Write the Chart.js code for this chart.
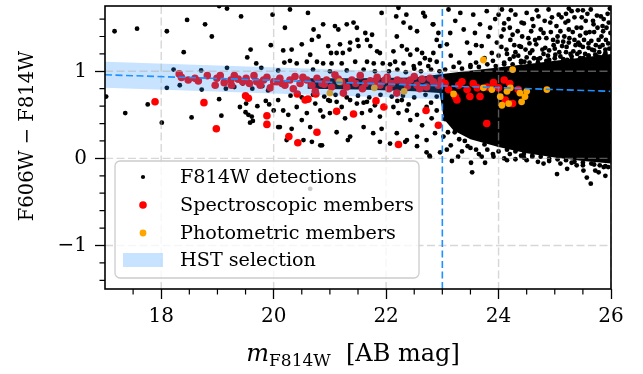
<!DOCTYPE html>
<html>
<head>
<meta charset="utf-8">
<script src="https://cdn.jsdelivr.net/npm/chart.js@4.4.0/dist/chart.umd.min.js"></script>
<style>
  body { margin: 0; background: #fff; }
  canvas { display: block; }
</style>
</head>
<body>
<canvas id="cmd" width="643" height="374"></canvas>
<script>
// ---- values ----
const xTicks = [18, 20, 22, 24, 26];
const yTicks = [-1, 0, 1];
const legendLabels = ['F814W detections', 'Spectroscopic members', 'Photometric members', 'HST selection'];

// individual F814W detections [mag, colour]
const detections = [
  [17.17,1.46],[17.57,1.49],[18.10,1.46],[18.46,1.59],[18.78,1.54],[19.03,1.75],[19.17,1.72],[19.42,1.63],[19.98,1.65],[18.90,1.40],
  [18.40,1.22],[19.95,1.30],[19.59,1.25],[19.53,1.16],[19.69,1.09],[19.78,1.04],[18.22,1.02],[18.71,1.01],[19.17,1.04],[20.08,1.01],
  [17.02,0.71],[17.36,0.52],[17.76,0.62],[18.01,0.41],[18.54,0.47],[18.10,0.81],[18.33,0.84],[18.72,0.79],[19.03,0.68],[19.07,0.49],
  [19.40,0.59],[19.51,0.63],[19.50,0.53],[19.55,0.50],[19.61,0.48],[19.58,0.41],[19.63,0.43],[19.71,0.60],[19.86,0.66],[19.92,0.62],
  [20.00,0.55],[20.08,0.36],[19.30,0.82],[19.45,0.86],[19.62,0.80],[19.80,0.83],[19.90,0.78],[19.15,0.80],
  [20.29,1.71],[20.61,1.67],[20.20,1.50],[20.50,1.31],[20.17,1.24],[20.32,1.25],[20.19,1.10],[20.29,1.12],[20.41,1.09],[20.59,1.11],
  [20.65,1.19],[20.77,1.11],[20.80,1.40],[20.88,1.54],[20.97,1.29],[21.02,1.21],[21.09,1.52],[21.15,1.48],[21.18,1.31],[21.23,1.21],
  [21.30,1.54],[21.36,1.33],[21.35,1.25],[21.42,1.56],[21.48,1.50],[21.49,1.36],[21.51,1.29],[21.63,1.44],[21.66,1.36],[21.72,1.29],
  [21.75,1.42],[21.84,1.23],[21.89,1.21],[21.92,1.67],[21.94,1.09],[21.78,1.09],[21.66,1.11],[21.45,1.11],[21.21,1.09],[21.03,1.09],
  [20.88,1.09],[20.68,1.36],[20.71,1.48],[21.12,1.21],[22.22,1.73],[22.18,1.63],[22.36,1.65],[22.66,1.67],[22.69,1.63],[22.84,1.54],
  [22.31,1.56],[22.43,1.50],[22.55,1.46],[22.19,1.40],[22.28,1.29],[22.37,1.25],[22.13,1.23],[22.43,1.19],[22.55,1.25],[22.64,1.21],
  [22.69,1.15],[22.78,1.13],[22.84,1.21],[22.90,1.11],[22.75,1.06],[22.60,1.09],[22.49,1.06],[22.31,1.09],[22.16,1.11],[22.07,1.08],
  [22.93,1.44],[22.90,1.36],[22.96,1.29],
  [22.05,1.00],[22.20,1.02],[22.35,0.99],[22.50,1.03],[22.62,1.00],[22.80,1.02],[22.95,1.00],[21.60,1.02],[21.80,1.00],[21.30,1.01],
  [21.00,1.00],[20.70,1.02],
  [20.08,0.67],[20.17,0.55],[20.26,0.50],[20.41,0.59],[20.50,0.44],[20.59,0.52],[20.65,0.36],[20.74,0.63],[20.83,0.55],[20.88,0.48],
  [20.97,0.67],[21.00,0.52],[21.12,0.65],[21.21,0.59],[21.27,0.46],[21.36,0.67],[21.48,0.63],[21.57,0.52],[21.66,0.65],[21.72,0.55],
  [21.80,0.61],[21.89,0.48],[21.92,0.34],[20.11,0.36],[20.32,0.34],[20.53,0.21],[20.86,0.15],[21.12,0.30],[21.36,0.25],[21.60,0.36],
  [21.77,0.29],[22.13,0.59],[22.22,0.52],[22.28,0.67],[22.37,0.55],[22.43,0.44],[22.55,0.50],[22.64,0.38],[22.72,0.59],[22.81,0.46],
  [22.90,0.55],[22.19,0.29],[22.37,0.21],[22.55,0.25],[22.72,0.21],[22.87,0.29],[22.07,0.17],
  [20.30,0.72],[20.50,0.70],[20.70,0.73],[20.90,0.71],[21.10,0.73],[21.30,0.70],[21.50,0.72],[21.70,0.70],[21.90,0.73],[22.10,0.71],
  [22.30,0.72],[22.50,0.70],[22.70,0.73],[22.90,0.71],[21.00,0.66],[21.60,0.64],[22.20,0.66],[22.80,0.64],[22.40,0.62],
  [20.23,0.21],[20.68,0.19],[20.83,0.15],[21.32,0.21],[21.89,0.19],[22.77,0.03],[22.72,0.07],[22.55,0.14],[22.34,0.19],[22.96,0.07],
  [22.78,0.02],[20.65,-0.35],
  [23.53,-0.16],[25.04,-0.18],[25.64,-0.29],[25.57,-0.22],[25.90,-0.20],[23.17,-0.03],[23.76,-0.05],[23.51,-0.05],[23.70,0.02],[23.91,0.02],
  [24.15,-0.02],[24.45,0.01],[24.80,-0.06],[25.22,-0.12],[25.39,-0.08],[25.51,-0.14],[25.72,-0.14],[25.78,-0.16],[25.87,-0.10],
  [22.83,1.54],[23.11,1.71],[23.23,1.58],[23.14,1.44],[23.08,1.31],[23.32,1.67],[23.38,1.48],[23.44,1.33],[23.49,1.21],[23.55,1.65],
  [23.58,1.44],[23.67,1.54],[23.70,1.29],[23.79,1.69],[23.82,1.40],[23.88,1.21],[23.94,1.60],[23.97,1.33],[24.06,1.71],[24.09,1.48],
  [24.14,1.25],[24.18,1.60],[24.21,1.36],[24.27,1.17],[24.30,1.65],[24.34,1.46],[24.37,1.29],[24.41,1.56],[24.46,1.11],[24.50,1.67],
  [24.53,1.38],[24.56,1.21],[24.62,1.52],[24.67,1.31],[24.71,1.63],[24.74,1.15],[24.80,1.44],[24.83,1.27],[24.89,1.71],[24.92,1.56],
  [24.97,1.36],[25.01,1.19],[25.07,1.65],[25.10,1.46],[25.13,1.29],[25.19,1.56],[25.22,1.13],[25.26,1.38],[25.30,1.69],[25.33,1.23],
  [25.39,1.50],[25.42,1.33],[25.48,1.62],[25.51,1.15],[25.56,1.44],[25.60,1.27],[25.64,1.71],[25.69,1.54],[25.72,1.19],[25.78,1.36],
  [25.82,1.63],[25.86,1.46],[25.90,1.25],[25.93,1.11],[25.96,1.56],
  [23.60,1.10],[23.75,1.15],[23.90,1.12],[24.00,1.18],[24.10,1.08],[24.20,1.14],[24.30,1.22],[24.40,1.10],[24.50,1.16],[24.60,1.24],
  [24.70,1.10],[24.80,1.20],[24.90,1.13],[25.00,1.26],[25.10,1.17],[25.20,1.22],[25.30,1.13],[25.40,1.20],[25.50,1.28],[25.60,1.18],
  [25.70,1.24],[25.80,1.16],[25.90,1.21],[25.95,1.32],[25.15,1.34],[24.55,1.32],[24.05,1.28],[23.50,1.05],[23.30,1.10],[23.15,1.18],
  [24.60,1.60],[24.75,1.48],[24.95,1.62],[25.05,1.40],[25.25,1.48],[25.35,1.62],[25.45,1.41],[25.55,1.58],[25.65,1.35],[25.75,1.64],
  [25.85,1.30],[25.92,1.50],[25.70,1.45],[25.25,1.72],[24.85,1.38],[24.45,1.55],[24.25,1.42],[25.98,1.72],[25.50,1.70],[24.10,1.55],
  [24.05,1.40],[24.15,1.20],[24.22,1.70],[24.28,1.30],[24.35,1.18],[24.42,1.40],[24.48,1.25],[24.58,1.46],[24.63,1.15],[24.68,1.70],
  [24.72,1.38],[24.78,1.25],[24.82,1.58],[24.88,1.18],[24.93,1.45],[24.98,1.30],[25.03,1.52],[25.08,1.22],[25.12,1.62],[25.17,1.40],
  [25.21,1.28],[25.24,1.58],[25.28,1.20],[25.32,1.45],[25.37,1.30],[25.41,1.70],[25.44,1.22],[25.47,1.50],[25.52,1.36],[25.54,1.20],
  [25.58,1.66],[25.62,1.45],[25.66,1.25],[25.68,1.58],[25.73,1.30],[25.76,1.50],[25.79,1.22],[25.83,1.40],[25.87,1.60],[25.88,1.18],
  [25.91,1.36],[25.94,1.66],[25.97,1.26],[25.99,1.44],[25.60,1.32],[25.35,1.36],[25.05,1.34],[24.65,1.36],[25.45,1.30],[25.80,1.28],
  [25.20,1.66],[24.90,1.24],[25.55,1.44],[25.85,1.52],[25.25,1.33],[24.40,1.28],[24.20,1.50],[24.00,1.65],[23.85,1.50],[23.60,1.30],
  [23.05,0.45],[23.10,0.30],[23.15,0.15],[23.20,0.52],[23.25,0.38],[23.30,0.22],[23.35,0.08],[23.40,0.46],[23.45,0.30],[23.50,0.12],
  [23.55,0.40],[23.60,0.24],[23.65,0.05],[23.70,0.33],[23.75,0.16],[23.80,0.10],[23.85,0.28],[23.90,0.05],[23.95,0.18],[24.00,0.08],
  [24.10,0.00],[24.20,0.05],[24.30,-0.01],[24.40,0.03],[24.50,-0.02],[24.60,0.02],[24.70,-0.04],[24.90,-0.03],[25.10,-0.06],[25.30,-0.05],
  [25.50,-0.08],[25.70,-0.07],[25.90,-0.09],
  [23.05,1.02],[23.20,1.05],[23.35,1.03],[23.50,1.07],[23.65,1.05],[23.80,1.08],[23.95,1.06],[24.10,1.10],[24.25,1.08],[24.40,1.12],
  [24.55,1.10],[24.70,1.14],[24.85,1.12],[25.00,1.15],[25.15,1.14],[25.30,1.17],[25.45,1.15],[25.60,1.18],[25.75,1.17],[25.90,1.19],
  [25.98,1.16],
  [23.10,0.48],[23.20,0.42],[23.30,0.40],[23.45,0.33],[23.55,0.30],[23.70,0.25],[23.85,0.20],[24.00,0.16],[24.15,0.10],[24.30,0.08],
  [24.45,0.05],[24.60,0.03],[24.75,0.02],[24.90,0.00],[25.05,-0.01],[25.20,-0.02],[25.35,-0.04],[25.50,-0.05],[25.65,-0.06],[25.80,-0.08],
  [25.95,-0.10],
  [23.08,0.62],[23.12,0.92],[23.18,0.60],[23.28,0.56],[23.38,0.62],[23.42,0.55],[23.58,0.52],[23.22,0.30],[23.40,0.20],[23.62,0.38],
  [23.02,0.25],[23.08,0.10],[23.28,0.02],[23.45,0.14],[23.60,0.10]
];

// outline of the crowded faint end, where the dots merge into a solid mass
const crowdTop = [[20.6,0.92],[21.5,0.92],[22.5,0.93],[23.0,0.97],[23.4,1.00],[23.8,1.03],[24.2,1.06],[24.6,1.09],[25.0,1.12],[25.5,1.16],[26.0,1.20]];
const crowdBottom = [[20.6,0.80],[21.5,0.79],[22.5,0.77],[22.95,0.75],[23.03,0.45],[23.2,0.32],[23.5,0.22],[24.0,0.13],[24.5,0.06],[25.0,0.01],[25.5,-0.03],[26.0,-0.06]];

const specMembers = [
  [17.89,0.65],[18.76,0.64],[18.98,0.34],[19.50,0.72],[19.55,0.69],[19.88,0.49],[19.88,0.39],[20.42,0.74],[20.56,0.67],[20.61,0.68],
  [20.75,0.74],[21.12,0.54],[21.42,0.51],[20.27,0.25],[20.43,0.18],[20.77,0.30],[21.82,0.66],[21.96,0.59],[22.22,0.16],[22.71,0.55],
  [22.93,0.38],[22.19,0.75],[23.79,0.40],
  [18.32,0.97],[18.36,0.93],[18.48,0.90],[18.60,0.92],[18.66,0.89],[18.82,0.95],[18.96,0.84],[18.99,0.92],[19.12,0.87],[19.24,0.90],
  [19.25,0.84],[19.37,0.91],[19.51,0.92],[19.57,0.86],[19.65,0.95],[19.70,0.88],[19.76,0.84],[19.88,0.93],[19.94,0.81],[20.06,0.88],
  [20.00,0.88],[20.11,0.92],[20.20,0.84],[20.29,0.90],[20.38,0.94],[20.47,0.86],[20.59,0.90],[20.68,0.84],[20.77,0.92],[20.86,0.86],
  [20.94,0.90],[21.03,0.82],[21.09,0.96],[21.21,0.88],[21.30,0.82],[21.39,0.90],[21.54,0.95],[21.63,0.86],[21.72,0.89],[21.84,0.93],
  [21.89,0.84],[21.98,0.90],[22.10,0.86],[22.31,0.88],[22.43,0.90],[22.55,0.84],[22.64,0.91],[22.72,0.82],[22.84,0.88],[22.93,0.84],
  [20.74,0.77],[21.24,0.75],[19.05,0.95],[19.45,0.88],[19.82,0.90],[20.15,0.86],[20.52,0.93],[20.90,0.85],[21.15,0.91],[21.46,0.86],
  [21.80,0.87],[22.02,0.93],[22.20,0.90],[22.38,0.83],[22.50,0.94],[22.78,0.92],[22.98,0.90],[21.58,0.80],[22.05,0.80],[22.60,0.80],
  [20.35,0.80],[19.30,0.95],
  [23.05,0.86],[23.11,0.79],[23.23,0.71],[23.26,0.67],[23.29,0.84],[23.44,0.79],[23.49,0.71],[23.62,0.81],[23.67,0.71],[23.91,0.87],
  [24.00,0.81],[24.12,0.67],[24.20,0.86],[24.25,0.63],[24.35,0.79],[23.35,0.88],[23.55,0.86],[23.80,0.82],[24.10,0.90]
];

const photMembers = [
  [21.17,0.88],[21.00,0.75],[21.79,0.81],[22.32,0.77],[23.73,1.13],[24.25,1.02],[23.20,0.74],[23.73,0.81],[23.88,0.79],[24.03,0.71],
  [24.15,0.77],[24.21,0.81],[24.06,0.61],[24.18,0.63],[24.41,0.65],[24.47,0.71],[24.50,0.77],[24.86,0.79],[24.38,0.75]
];

// HST colour selection: band edges and centre line, and the magnitude limit
const selTop = [[17, 1.11], [23, 0.98]];
const selBottom = [[17, 0.81], [23, 0.68]];
const selCentre = [[17, 0.96], [26, 0.77]];
const magLimit = [[23, -1.5], [23, 1.75]];

// ---- drawing ----
const SERIF = '"DejaVu Serif", serif';
const BAND = 'rgba(30, 144, 255, 0.25)';
const pts = arr => arr.map(p => ({ x: p[0], y: p[1] }));

// gray dashed grid goes above the points but under the blue lines
const gridUnderLines = {
  id: 'gridUnderLines',
  beforeDatasetDraw(chart, args) {
    if (chart.data.datasets[args.index].label !== 'sel-centre') return;
    const { ctx, chartArea: a, scales: { x, y } } = chart;
    ctx.save();
    ctx.strokeStyle = 'rgba(176,176,176,0.5)';
    ctx.lineWidth = 1.4;
    ctx.setLineDash([8, 3.5]);
    ctx.beginPath();
    xTicks.forEach(v => { const px = x.getPixelForValue(v); ctx.moveTo(px, a.top); ctx.lineTo(px, a.bottom); });
    yTicks.forEach(v => { const py = y.getPixelForValue(v); ctx.moveTo(a.left, py); ctx.lineTo(a.right, py); });
    ctx.stroke();
    ctx.restore();
  }
};

// minor ticks and the box around the axes
const frame = {
  id: 'frame',
  afterDraw(chart) {
    const { ctx, chartArea: a, scales: { x, y } } = chart;
    ctx.save();
    ctx.strokeStyle = '#000';
    ctx.lineWidth = 1.2;
    ctx.beginPath();
    for (let k = 35; k <= 51; k++) {
      if (k % 4 === 0) continue;
      const px = x.getPixelForValue(k / 2);
      ctx.moveTo(px, a.bottom); ctx.lineTo(px, a.bottom + 5.5);
    }
    for (let k = -7; k <= 8; k++) {
      if (k % 5 === 0) continue;
      const py = y.getPixelForValue(k / 5);
      ctx.moveTo(a.left, py); ctx.lineTo(a.left - 5.5, py);
    }
    ctx.stroke();
    ctx.lineWidth = 1.6;
    ctx.strokeRect(a.left, a.top, a.right - a.left, a.bottom - a.top);
    ctx.restore();
  }
};

const axisTitles = {
  id: 'axisTitles',
  afterDraw(chart) {
    const { ctx } = chart;
    ctx.save();
    ctx.fillStyle = '#000';
    ctx.textBaseline = 'alphabetic';
    const parts = [
      { t: 'm', f: 'italic 24px ' + SERIF, dy: 0 },
      { t: 'F814W', f: '17px ' + SERIF, dy: 5 },
      { t: '  [AB mag]', f: '24px ' + SERIF, dy: 0 }
    ];
    let w = 0;
    parts.forEach(p => { ctx.font = p.f; p.w = ctx.measureText(p.t).width; w += p.w; });
    let cx = 353 - w / 2;
    parts.forEach(p => { ctx.font = p.f; ctx.fillText(p.t, cx, 361 + p.dy); cx += p.w; });

    ctx.translate(28, 136);
    ctx.rotate(-Math.PI / 2);
    ctx.textAlign = 'center';
    ctx.textBaseline = 'middle';
    ctx.font = '19.5px ' + SERIF;
    ctx.fillText('F606W \u2212 F814W', 0, 0);
    ctx.restore();
  }
};

const legendBox = {
  id: 'legendBox',
  afterDraw(chart) {
    const ctx = chart.ctx;
    const x0 = 115, y0 = 161, w = 304, h = 117, r = 5;
    ctx.save();
    ctx.beginPath();
    ctx.roundRect(x0, y0, w, h, r);
    ctx.fillStyle = 'rgba(255,255,255,0.8)';
    ctx.fill();
    ctx.strokeStyle = '#cccccc';
    ctx.lineWidth = 1.3;
    ctx.stroke();
    const rows = [177, 205, 233, 260];
    const marks = [
      { c: '#000', r: 2.1 },
      { c: '#ff0000', r: 3.8 },
      { c: '#ffa500', r: 3.4 }
    ];
    marks.forEach((m, i) => {
      ctx.beginPath();
      ctx.arc(143, rows[i], m.r, 0, Math.PI * 2);
      ctx.fillStyle = m.c;
      ctx.fill();
    });
    ctx.fillStyle = BAND;
    ctx.fillRect(123, 253, 40, 14);
    ctx.fillStyle = '#000';
    ctx.font = '19.2px ' + SERIF;
    ctx.textBaseline = 'middle';
    legendLabels.forEach((t, i) => ctx.fillText(t, 180, rows[i] + 1));
    ctx.restore();
  }
};

const dashed = { type: 'line', pointRadius: 0, borderColor: '#1e90ff', borderWidth: 1.6, borderDash: [7, 3.5], fill: false };
const edge = { type: 'line', pointRadius: 0, borderColor: 'transparent', borderWidth: 0 };

new Chart(document.getElementById('cmd'), {
  type: 'scatter',
  data: {
    datasets: [
      Object.assign({ label: 'magnitude limit', data: pts(magLimit), order: 1 }, dashed),
      Object.assign({ label: 'sel-centre', data: pts(selCentre), order: 2 }, dashed),
      Object.assign({ label: 'sel-top', data: pts(selTop), order: 6, fill: false }, edge),
      Object.assign({ label: 'sel-bottom', data: pts(selBottom), order: 6, fill: '-1', backgroundColor: BAND }, edge),
      { label: 'phot', data: pts(photMembers), order: 7, pointRadius: 3.4, backgroundColor: '#ffa500', borderWidth: 0 },
      { label: 'spec', data: pts(specMembers), order: 8, pointRadius: 3.8, backgroundColor: '#ff0000', borderWidth: 0 },
      { label: 'detections', data: pts(detections), order: 9, pointRadius: 2.4, backgroundColor: '#000', borderWidth: 0 },
      Object.assign({ label: 'crowd-top', data: pts(crowdTop), order: 10, fill: false }, edge),
      Object.assign({ label: 'crowd-bottom', data: pts(crowdBottom), order: 10, fill: '-1', backgroundColor: '#000' }, edge)
    ]
  },
  options: {
    responsive: false,
    animation: false,
    devicePixelRatio: 1,
    layout: { padding: { top: 6, right: 32, left: 0, bottom: 0 } },
    plugins: { legend: { display: false }, tooltip: { enabled: false } },
    scales: {
      x: {
        type: 'linear', min: 17, max: 26,
        afterFit: s => { s.height = 85; s.paddingLeft = 0; s.paddingRight = 0; },
        afterBuildTicks: s => { s.ticks = xTicks.map(v => ({ value: v })); },
        grid: { drawOnChartArea: false, drawTicks: true, tickLength: 10, tickColor: '#000', tickWidth: 1.3, color: '#000' },
        border: { display: false },
        ticks: { font: { family: SERIF, size: 20 }, color: '#000', padding: 6, maxRotation: 0, autoSkip: false }
      },
      y: {
        type: 'linear', min: -1.5, max: 1.75,
        afterFit: s => { s.width = 105; s.paddingTop = 0; s.paddingBottom = 0; },
        afterBuildTicks: s => { s.ticks = yTicks.map(v => ({ value: v })); },
        grid: { drawOnChartArea: false, drawTicks: true, tickLength: 10, tickColor: '#000', tickWidth: 1.3, color: '#000' },
        border: { display: false },
        ticks: {
          font: { family: SERIF, size: 20 }, color: '#000', padding: 8, autoSkip: false,
          callback: v => (v < 0 ? '\u2212' + Math.abs(v) : String(v))
        }
      }
    }
  },
  plugins: [gridUnderLines, frame, axisTitles, legendBox]
});
</script>
</body>
</html>
